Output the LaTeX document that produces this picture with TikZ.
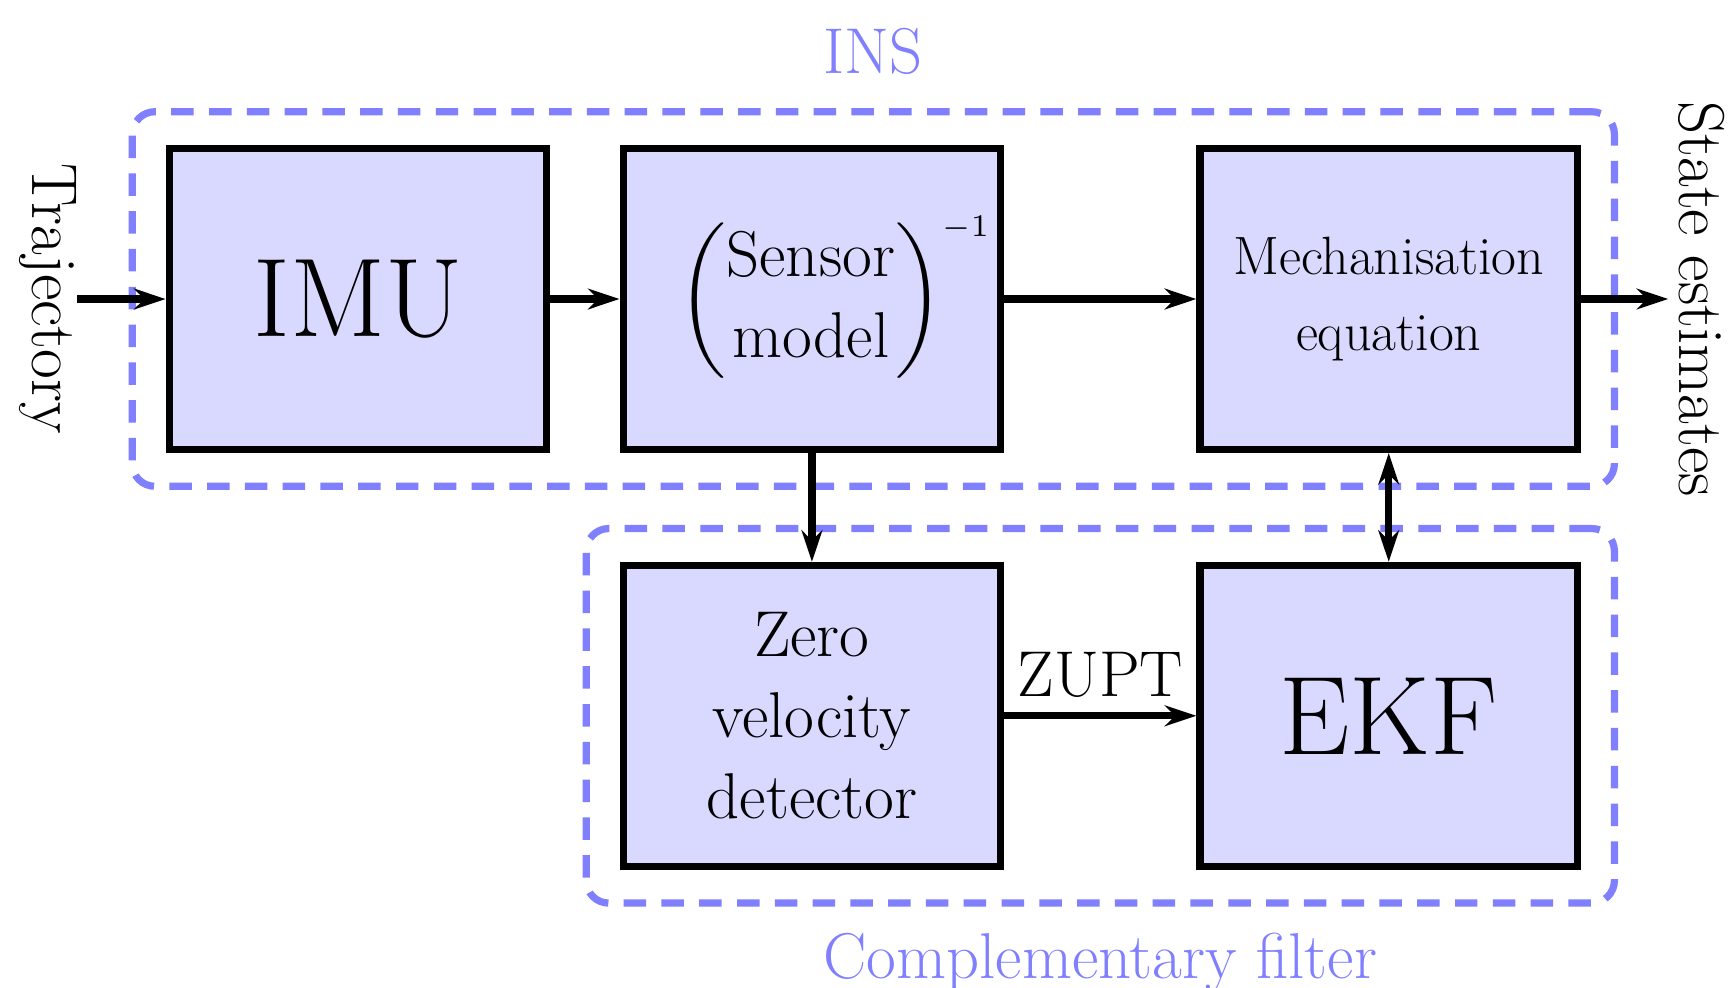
\documentclass[tikz,border=0pt]{standalone}
\usepackage{amsmath}
\usepackage{fontspec}
\setmainfont{lmroman17-regular.otf}
\usetikzlibrary{arrows.meta,positioning,calc,fit}

\tikzset{
  >={Stealth[length=7pt,width=4.6pt]},
  block/.style={draw, ultra thick, fill=blue!15, minimum width=2.95cm, minimum height=2.35cm, align=center, font=\Large},
  group/.style={draw=blue!50, ultra thick, dash pattern=on 5pt off 3.4pt, rounded corners=5pt, inner sep=0.26cm},
  grouplabel/.style={text=blue!50, font=\Large},
  sig/.style={ultra thick, ->},
}

\begin{document}
\begin{tikzpicture}[node distance=0.54cm]
\useasboundingbox (-2.797,-5.375) rectangle (10.711,2.336);

% blocks
\node[block, font=\Huge] (imu) {IMU};
\node[block, right=of imu] (sensor) {$\left(\begin{tabular}{@{}c@{}}Sensor\\model\end{tabular}\right)^{\rlap{$\scriptscriptstyle -1$}}$};
\node[block, right=1.5cm of sensor, font=\large] (mech) {Mechanisation\\[3pt]equation};
\node[block, below=0.85cm of sensor] (zvd) {Zero\\velocity\\detector};
\node[block, below=0.85cm of mech, font=\Huge] (ekf) {EKF};

% dashed groups
\node[group, fit=(imu)(mech), label={[grouplabel, label distance=4pt]above:INS}] (ins) {};
\node[group, fit=(zvd)(ekf), label={[grouplabel, label distance=2.3pt]below:Complementary filter}] (cf) {};

% in and out
\node[rotate=-90, anchor=north, inner sep=0pt, font=\Large] (traj) at ($(imu.west)+(-0.69,0)$) {Trajectory};
\node[rotate=-90, anchor=south, inner sep=2pt, font=\Large] (est) at ($(mech.east)+(0.68,0)$) {State estimates};

% signals
\draw[sig] (traj.north) -- (imu.west);
\draw[sig] (imu) -- (sensor);
\draw[sig] (sensor) -- (mech);
\draw[sig] (mech) -- (est.south);
\draw[sig] (sensor) -- (zvd);
\draw[sig] (zvd) -- node[above, font=\Large] {ZUPT} (ekf);
\draw[sig, <->] (mech) -- (ekf);
\end{tikzpicture}
\end{document}
